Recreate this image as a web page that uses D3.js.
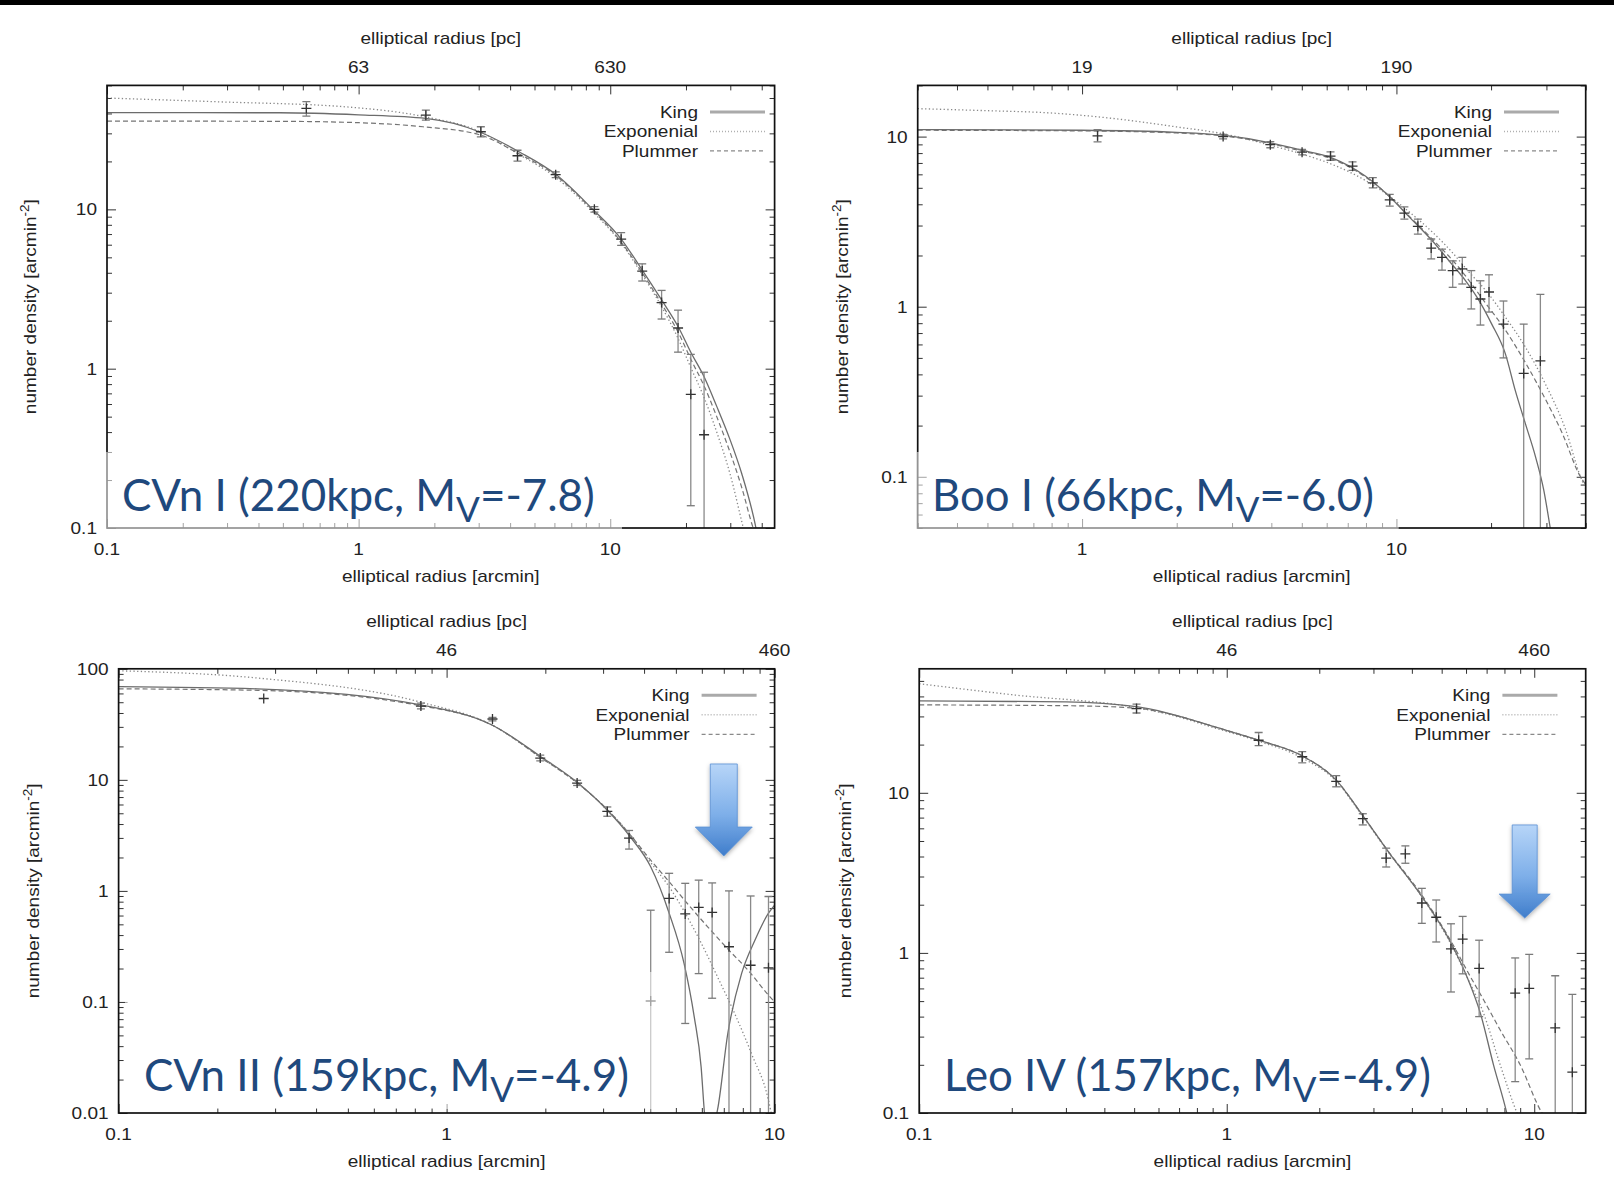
<!DOCTYPE html>
<html>
<head>
<meta charset="utf-8">
<script src="https://cdn.jsdelivr.net/npm/d3@7"></script>
<style>
  body { margin: 0; background: #fff; }
  text { font-family: "Liberation Sans", Arial, sans-serif; }
</style>
</head>
<body>
<script>
// ---------- shared labels ----------
const legendNames = ["King", "Exponenial", "Plummer"];
const xTitle = "elliptical radius [arcmin]";
const pcTitle = "elliptical radius [pc]";
const yTitle = ["number density [arcmin", "-2", "]"];

// ---------- CVn I ----------
const cvn1Title = ["CVn I (220kpc, M", "V", "=-7.8)"];
const cvn1XTicks = [0.1, 1, 10];
const cvn1XLabels = ["0.1", "1", "10"];
const cvn1PcTicks = [63, 630];
const cvn1PcLabels = ["63", "630"];
const cvn1YTicks = [0.1, 1, 10];
const cvn1YLabels = ["0.1", "1", "10"];
// [radius, density, err low, err high]  (low 0 = below the axis)
const cvn1Data = [
  [0.62, 43, 38.5, 47.5], [1.85, 39, 36.3, 42], [3.06, 30.7, 28.5, 33],
  [4.28, 21.7, 20.1, 23.5], [6.07, 16.5, 15.8, 17.2], [8.65, 10, 9.6, 10.4],
  [11.05, 6.5, 5.95, 7.15], [13.4, 4.1, 3.55, 4.55], [16.0, 2.6, 2.05, 3.1],
  [18.6, 1.8, 1.27, 2.33], [20.9, 0.69, 0.138, 1.23], [23.6, 0.385, 0, 0.95]
];
const cvn1King = [[0.1, 40.5], [0.485, 40.4], [1.0, 39.2], [1.85, 37.2], [3.01, 30.7], [4.34, 23],
  [6.07, 16.6], [8.47, 10.1], [11.07, 6.49], [13.4, 4.16], [16, 2.7], [18.6, 1.84], [21, 1.25],
  [23.6, 0.89], [26.5, 0.58], [29.9, 0.36], [33.3, 0.22], [37.7, 0.105], [39, 0.08]];
const cvn1Expo = [[0.1, 50], [0.28, 47.3], [0.89, 44], [1.85, 38], [3.0, 31], [4.3, 22.3], [6.1, 15.8],
  [8.5, 9.7], [11, 6.2], [13.4, 3.9], [16, 2.45], [18.6, 1.55], [21, 1.0], [23.6, 0.66], [26.5, 0.4],
  [29.9, 0.22], [33.8, 0.1], [35, 0.08]];
const cvn1Plum = [[0.1, 35.8], [0.485, 35.7], [1.0, 35], [1.8, 33], [3.0, 29.5], [4.3, 22.5], [6.1, 16.2],
  [8.5, 9.9], [11, 6.3], [13.4, 4.0], [16, 2.55], [18.6, 1.7], [21, 1.13], [23.6, 0.78], [26.5, 0.5],
  [29.9, 0.3], [33.3, 0.18], [37, 0.1], [38.5, 0.085]];

// ---------- Boo I ----------
const boo1Title = ["Boo I (66kpc, M", "V", "=-6.0)"];
const boo1XTicks = [1, 10];
const boo1XLabels = ["1", "10"];
const boo1PcTicks = [19, 190];
const boo1PcLabels = ["19", "190"];
const boo1YTicks = [0.1, 1, 10];
const boo1YLabels = ["0.1", "1", "10"];
const boo1Data = [
  [1.12, 10.1, 9.3, 11.0], [2.81, 10.0, 9.7, 10.3], [3.97, 8.97, 8.6, 9.35], [5.01, 8.1, 7.8, 8.4],
  [6.17, 7.68, 7.26, 8.14], [7.25, 6.7, 6.33, 7.1], [8.41, 5.35, 5.0, 5.74], [9.52, 4.25, 3.9, 4.58],
  [10.6, 3.55, 3.27, 3.86], [11.7, 2.97, 2.67, 3.27], [12.9, 2.21, 1.91, 2.5], [13.96, 1.95, 1.64, 2.18],
  [15.1, 1.63, 1.30, 1.86], [16.2, 1.67, 1.36, 1.95], [17.3, 1.30, 0.97, 1.63], [18.5, 1.11, 0.78, 1.42],
  [19.7, 1.22, 0.93, 1.54], [21.9, 0.79, 0.50, 1.08], [25.4, 0.405, 0, 0.79], [28.7, 0.48, 0, 1.18]
];
const boo1King = [[0.3, 11.0], [1, 10.9], [2, 10.6], [2.8, 10.2], [3.97, 9.2], [4.88, 8.4], [6.23, 7.5],
  [7.96, 5.86], [9.57, 4.38], [10.9, 3.42], [13.0, 2.44], [15.0, 1.78], [16.6, 1.42], [18.3, 1.09],
  [20.1, 0.79], [22.2, 0.53], [23.9, 0.32], [25.7, 0.206], [27.7, 0.131], [29.4, 0.084], [30.9, 0.049]];
const boo1Expo = [[0.3, 14.6], [0.5, 14.2], [0.78, 13.8], [1.2, 12.9], [2, 11.4], [2.8, 10.4], [3.97, 8.9],
  [5, 7.9], [6.2, 6.9], [8, 5.5], [9.6, 4.4], [11, 3.6], [13, 2.75], [15, 2.1], [17, 1.6], [19.2, 1.25],
  [22.2, 0.87], [25.7, 0.58], [29.8, 0.35], [34.5, 0.19], [38.5, 0.1], [40, 0.085]];
const boo1Plum = [[0.3, 10.9], [1, 10.8], [2, 10.5], [2.8, 10.1], [3.97, 9.1], [4.88, 8.3], [6.23, 7.4],
  [7.96, 5.8], [9.57, 4.4], [10.9, 3.45], [13.0, 2.5], [15.8, 1.7], [19.2, 1.05], [22.2, 0.73],
  [25.7, 0.47], [29.1, 0.31], [33.7, 0.18], [38.5, 0.1], [40, 0.09]];

// ---------- CVn II ----------
const cvn2Title = ["CVn II (159kpc, M", "V", "=-4.9)"];
const cvn2XTicks = [0.1, 1, 10];
const cvn2XLabels = ["0.1", "1", "10"];
const cvn2PcTicks = [46, 460];
const cvn2PcLabels = ["46", "460"];
const cvn2YTicks = [0.01, 0.1, 1, 10, 100];
const cvn2YLabels = ["0.01", "0.1", "1", "10", "100"];
const cvn2Data = [
  [0.277, 54, 54, 54], [0.835, 46.2, 43.5, 49], [1.38, 35.3, 34, 36.5], [1.93, 15.7, 14.8, 16.7],
  [2.50, 9.36, 8.9, 9.9], [3.09, 5.2, 4.7, 5.7], [3.6, 2.99, 2.38, 3.5], [4.19, 0.102, 0, 0.67],
  [4.77, 0.855, 0.28, 1.44], [5.34, 0.62, 0.064, 1.17], [5.87, 0.71, 0.18, 1.25], [6.45, 0.64, 0.108, 1.18],
  [7.26, 0.314, 0, 1.0], [8.45, 0.214, 0, 0.9], [9.58, 0.203, 0, 0.89]
];
const cvn2King = [[0.1, 69], [0.265, 66], [0.835, 47.3], [1.38, 31], [1.93, 16.3], [2.5, 9.5], [3.04, 5.6],
  [3.63, 3.07], [4.19, 1.65], [4.77, 0.63], [5.30, 0.22], [5.69, 0.073], [5.97, 0.026], [6.1, 0.0107],
  [6.15, 0.008]];
const cvn2King2 = [[6.55, 0.008], [6.7, 0.0107], [7.2, 0.052], [7.93, 0.18], [8.71, 0.36], [9.58, 0.63],
  [10, 0.745]];
const cvn2Expo = [[0.1, 96], [0.265, 82.6], [0.835, 50], [1.38, 31], [1.93, 16], [2.5, 9.4], [3.09, 5.4],
  [3.63, 3.2], [4.19, 1.8], [4.77, 1.09], [5.34, 0.63], [5.97, 0.34], [6.7, 0.168], [7.55, 0.079],
  [8.51, 0.034], [9.58, 0.013], [9.8, 0.0095]];
const cvn2Plum = [[0.1, 66], [0.265, 64], [0.835, 46.5], [1.38, 31], [1.93, 16], [2.5, 9.4], [3.09, 5.4],
  [3.63, 3.2], [4.19, 1.89], [4.77, 1.21], [5.42, 0.77], [6.25, 0.475], [7.2, 0.30], [8.3, 0.193],
  [9.58, 0.115], [10, 0.1]];

// ---------- Leo IV ----------
const leo4Title = ["Leo IV (157kpc, M", "V", "=-4.9)"];
const leo4XTicks = [0.1, 1, 10];
const leo4XLabels = ["0.1", "1", "10"];
const leo4PcTicks = [46, 460];
const leo4PcLabels = ["46", "460"];
const leo4YTicks = [0.1, 1, 10];
const leo4YLabels = ["0.1", "1", "10"];
const leo4Data = [
  [0.509, 33.6, 31.5, 35.8], [1.27, 21.3, 19.7, 23.8], [1.76, 16.8, 15.4, 18.1], [2.27, 11.8, 10.9, 12.8],
  [2.77, 6.9, 6.3, 7.4], [3.30, 3.91, 3.44, 4.51], [3.81, 4.16, 3.63, 4.66], [4.31, 2.05, 1.53, 2.53],
  [4.80, 1.67, 1.17, 2.14], [5.36, 1.06, 0.57, 1.52], [5.85, 1.22, 0.74, 1.69], [6.62, 0.80, 0.40, 1.20],
  [8.67, 0.56, 0.157, 0.93], [9.63, 0.60, 0.218, 0.98], [11.7, 0.34, 0, 0.72], [13.3, 0.18, 0, 0.55]
];
const leo4King = [[0.1, 37.5], [0.3, 37], [0.509, 34.5], [0.642, 31.5], [0.94, 25.4], [1.27, 21.3],
  [1.76, 17], [2.27, 12], [2.77, 7.2], [3.37, 4.23], [4.24, 2.35], [5.34, 1.17], [6.04, 0.71],
  [6.68, 0.42], [7.37, 0.2], [8.14, 0.1], [8.3, 0.085]];
const leo4Expo = [[0.1, 48], [0.2, 41], [0.509, 34], [0.642, 31], [0.94, 25], [1.27, 21], [1.76, 16.5],
  [2.27, 11.8], [2.77, 7.1], [3.37, 4.2], [4.24, 2.35], [5.34, 1.15], [6.04, 0.71], [6.84, 0.42],
  [7.75, 0.2], [8.79, 0.1], [9, 0.09]];
const leo4Plum = [[0.1, 35.4], [0.3, 35], [0.509, 33.8], [0.642, 31.3], [0.94, 25.4], [1.27, 21.3],
  [1.76, 17], [2.27, 12], [2.77, 7.2], [3.37, 4.25], [4.24, 2.4], [5.34, 1.2], [6.2, 0.71], [6.84, 0.51],
  [7.75, 0.33], [9.0, 0.2], [10.6, 0.1], [11, 0.09]];

// ---------- layout ----------
const W = 1614, H = 1183;
const SX = 1.12;          // gnuplot text looks a bit wide
const FS = 17;

const panels = [
  { id: "cvn1", left: 107, right: 774.6, top: 85.4, bottom: 528, xDomain: [0.1, 45], yDomain: [0.1, 60],
    pcf: 63, xT: cvn1XTicks, xL: cvn1XLabels, pcT: cvn1PcTicks, pcL: cvn1PcLabels, yT: cvn1YTicks, yL: cvn1YLabels,
    data: cvn1Data, king: [cvn1King], expo: cvn1Expo, plum: cvn1Plum, title: cvn1Title,
    titleX: 122, titleW: 473, titleY: 511, legRight: 765, yLabX: 36,
    fade: [106, 452, 516, 80] },
  { id: "boo1", left: 917.7, right: 1585.7, top: 85.4, bottom: 528, xDomain: [0.3, 40], yDomain: [0.05, 20],
    pcf: 19, xT: boo1XTicks, xL: boo1XLabels, pcT: boo1PcTicks, pcL: boo1PcLabels, yT: boo1YTicks, yL: boo1YLabels,
    data: boo1Data, king: [boo1King], expo: boo1Expo, plum: boo1Plum, title: boo1Title,
    titleX: 932, titleW: 442, titleY: 511, legRight: 1559, yLabX: 848,
    fade: [916.7, 452, 482, 80] },
  { id: "cvn2", left: 118.6, right: 774.6, top: 668.8, bottom: 1113, xDomain: [0.1, 10], yDomain: [0.01, 100],
    pcf: 46, xT: cvn2XTicks, xL: cvn2XLabels, pcT: cvn2PcTicks, pcL: cvn2PcLabels, yT: cvn2YTicks, yL: cvn2YLabels,
    data: cvn2Data, king: [cvn2King, cvn2King2], expo: cvn2Expo, plum: cvn2Plum, title: cvn2Title,
    titleX: 144, titleW: 485, titleY: 1091, legRight: 756.6, yLabX: 39,
    fade: [125, 972, 535, 137],
    arrow: { r: 7, top: 13.9, tip: 2.06, sw: 13.5, hw: 28.5, hl: 29 } },
  { id: "leo4", left: 919.2, right: 1585.7, top: 668.8, bottom: 1113, xDomain: [0.1, 14.7], yDomain: [0.1, 59.5],
    pcf: 46, xT: leo4XTicks, xL: leo4XLabels, pcT: leo4PcTicks, pcL: leo4PcLabels, yT: leo4YTicks, yL: leo4YLabels,
    data: leo4Data, king: [leo4King], expo: leo4Expo, plum: leo4Plum, title: leo4Title,
    titleX: 944, titleW: 487, titleY: 1091, legRight: 1557.4, yLabX: 850.5,
    arrow: { r: 9.31, top: 6.3, tip: 1.65, sw: 12.5, hw: 25.5, hl: 24 } }
];

const svg = d3.select("body").append("svg").attr("width", W).attr("height", H);
svg.append("rect").attr("width", W).attr("height", H).attr("fill", "#fff");
svg.append("rect").attr("width", W).attr("height", 5).attr("fill", "#000");

const defs = svg.append("defs");
const grad = defs.append("linearGradient").attr("id", "arrowGrad")
  .attr("x1", 0).attr("y1", 0).attr("x2", 0).attr("y2", 1);
grad.append("stop").attr("offset", "0%").attr("stop-color", "#b7d5f8");
grad.append("stop").attr("offset", "55%").attr("stop-color", "#7eafe9");
grad.append("stop").attr("offset", "100%").attr("stop-color", "#3f7dcb");
const shadow = defs.append("filter").attr("id", "arrowShadow").attr("x", "-30%").attr("y", "-30%")
  .attr("width", "160%").attr("height", "160%");
shadow.append("feDropShadow").attr("dx", 0).attr("dy", 2).attr("stdDeviation", 2)
  .attr("flood-color", "#000").attr("flood-opacity", 0.3);

const isMajor = v => Math.abs(Math.log10(v) - Math.round(Math.log10(v))) < 1e-6;

// widen text a little around its own anchor point
function stretch(sel) {
  sel.each(function () {
    const t = d3.select(this);
    const x = +t.attr("x") || 0, y = +t.attr("y") || 0;
    t.attr("transform", `translate(${x},${y}) scale(${SX},1) translate(${-x},${-y})`);
  });
}

function tickAxis(g, axis, pos, values, size) {
  g.append("g")
    .attr("transform", pos)
    .attr("color", "#333")
    .call(axis.tickValues(values).tickSizeInner(-size).tickSizeOuter(0).tickFormat(""))
    .call(a => a.select(".domain").remove());
}

function drawPanel(p) {
  const g = svg.append("g").attr("class", "panel-" + p.id);
  const x = d3.scaleLog().domain(p.xDomain).range([p.left, p.right]);
  const y = d3.scaleLog().domain(p.yDomain).range([p.bottom, p.top]);
  const xPc = d3.scaleLog().domain(p.xDomain.map(d => d * p.pcf)).range([p.left, p.right]);

  const clipId = "clip-" + p.id;
  defs.append("clipPath").attr("id", clipId).append("rect")
    .attr("x", p.left).attr("y", p.top).attr("width", p.right - p.left).attr("height", p.bottom - p.top);

  // ticks (gnuplot style, inward on all four sides)
  const xMinor = x.ticks().filter(v => !isMajor(v));
  const xMajor = x.ticks().filter(isMajor);
  const yMinor = y.ticks().filter(v => !isMajor(v));
  const yMajor = y.ticks().filter(isMajor);
  tickAxis(g, d3.axisBottom(x), `translate(0,${p.bottom})`, xMinor, 5);
  tickAxis(g, d3.axisBottom(x), `translate(0,${p.bottom})`, xMajor, 9);
  tickAxis(g, d3.axisTop(xPc), `translate(0,${p.top})`, xMinor.map(v => v * p.pcf), 5);
  tickAxis(g, d3.axisTop(xPc), `translate(0,${p.top})`, xMajor.map(v => v * p.pcf), 9);
  tickAxis(g, d3.axisLeft(y), `translate(${p.left},0)`, yMinor, 5);
  tickAxis(g, d3.axisLeft(y), `translate(${p.left},0)`, yMajor, 9);
  tickAxis(g, d3.axisRight(y), `translate(${p.right},0)`, yMinor, 5);
  tickAxis(g, d3.axisRight(y), `translate(${p.right},0)`, yMajor, 9);

  // tick labels
  const lab = g.append("g").attr("fill", "#222").style("font-size", FS + "px");
  lab.selectAll("text.xl").data(p.xT).join("text").attr("class", "xl")
    .attr("x", d => x(d)).attr("y", p.bottom + 27).attr("text-anchor", "middle")
    .text((d, i) => p.xL[i]).call(stretch);
  lab.selectAll("text.pl").data(p.pcT).join("text").attr("class", "pl")
    .attr("x", d => xPc(d)).attr("y", p.top - 12.5).attr("text-anchor", "middle")
    .text((d, i) => p.pcL[i]).call(stretch);
  lab.selectAll("text.yl").data(p.yT).join("text").attr("class", "yl")
    .attr("x", p.left - 10).attr("y", d => y(d) + 6).attr("text-anchor", "end")
    .text((d, i) => p.yL[i]).call(stretch);

  // axis titles
  const cx = (p.left + p.right) / 2;
  lab.append("text").attr("x", cx).attr("y", p.bottom + 54).attr("text-anchor", "middle")
    .text(xTitle).call(stretch);
  lab.append("text").attr("x", cx).attr("y", p.top - 41.5).attr("text-anchor", "middle")
    .text(pcTitle).call(stretch);
  const yl = lab.append("text").attr("text-anchor", "middle")
    .attr("transform", `translate(${p.yLabX},${(p.top + p.bottom) / 2}) rotate(-90) scale(${SX},1)`);
  yl.append("tspan").text(yTitle[0]);
  yl.append("tspan").attr("dy", -7).style("font-size", "12px").text(yTitle[1]);
  yl.append("tspan").attr("dy", 7).text(yTitle[2]);

  // model curves
  const line = d3.line().x(d => x(d[0])).y(d => y(d[1])).curve(d3.curveMonotoneX);
  const cg = g.append("g").attr("clip-path", `url(#${clipId})`).attr("fill", "none");
  cg.append("path").datum(p.expo).attr("d", line)
    .attr("stroke", "#888").attr("stroke-width", 1.3).attr("stroke-dasharray", "1.3,2.4");
  cg.append("path").datum(p.plum).attr("d", line)
    .attr("stroke", "#747474").attr("stroke-width", 1.2).attr("stroke-dasharray", "5,3");
  cg.selectAll("path.king").data(p.king).join("path").attr("class", "king").attr("d", line)
    .attr("stroke", "#6c6c6c").attr("stroke-width", 1.3);

  // data with error bars
  const dg = g.append("g").attr("clip-path", `url(#${clipId})`);
  const yLo = d => d[2] > 0 ? y(d[2]) : p.bottom + 3;
  const withBar = p.data.filter(d => d[3] > d[2]);
  dg.selectAll("line.bar").data(withBar).join("line").attr("class", "bar")
    .attr("x1", d => x(d[0])).attr("x2", d => x(d[0]))
    .attr("y1", d => y(d[3])).attr("y2", yLo)
    .attr("stroke", "#8a8a8a").attr("stroke-width", 1.3);
  dg.selectAll("line.capHi").data(withBar).join("line").attr("class", "capHi")
    .attr("x1", d => x(d[0]) - 4).attr("x2", d => x(d[0]) + 4)
    .attr("y1", d => y(d[3])).attr("y2", d => y(d[3]))
    .attr("stroke", "#7a7a7a").attr("stroke-width", 1.3);
  dg.selectAll("line.capLo").data(withBar.filter(d => d[2] > 0)).join("line").attr("class", "capLo")
    .attr("x1", d => x(d[0]) - 4).attr("x2", d => x(d[0]) + 4)
    .attr("y1", d => y(d[2])).attr("y2", d => y(d[2]))
    .attr("stroke", "#7a7a7a").attr("stroke-width", 1.3);
  dg.selectAll("path.pt").data(p.data).join("path").attr("class", "pt")
    .attr("d", d => {
      const px = x(d[0]), py = y(d[1]);
      return `M${px - 5},${py}H${px + 5}M${px},${py - 5}V${py + 5}`;
    })
    .attr("stroke", "#333").attr("stroke-width", 1.3).attr("fill", "none");

  // frame
  g.append("rect").attr("x", p.left).attr("y", p.top)
    .attr("width", p.right - p.left).attr("height", p.bottom - p.top)
    .attr("fill", "none").attr("stroke", "#111").attr("stroke-width", 1.7);

  // legend
  const lg = g.append("g").style("font-size", FS + "px").attr("fill", "#222");
  const styles = [
    { stroke: "#aaa", width: 3, dash: null },
    { stroke: "#b0b0b0", width: 1.5, dash: "1,2" },
    { stroke: "#8a8a8a", width: 1.3, dash: "4,3" }
  ];
  legendNames.forEach((name, i) => {
    const ly = p.top + 26.5 + i * 19.5;
    const st = styles[i];
    lg.append("line").attr("x1", p.legRight - 55).attr("x2", p.legRight)
      .attr("y1", ly).attr("y2", ly).attr("stroke", st.stroke).attr("stroke-width", st.width)
      .attr("stroke-dasharray", st.dash);
    lg.append("text").attr("x", p.legRight - 67).attr("y", ly + 6).attr("text-anchor", "end")
      .text(name).call(stretch);
  });

  // translucent title box that pales the axes beneath it
  if (p.fade) {
    g.append("rect").attr("x", p.fade[0]).attr("y", p.fade[1])
      .attr("width", p.fade[2]).attr("height", p.fade[3])
      .attr("fill", "#fff").attr("opacity", 0.55);
  }

  // big title
  const t = g.append("text").attr("x", p.titleX).attr("y", p.titleY).attr("fill", "#1F497D")
    .style("font-family", "Lato, 'Open Sans', sans-serif").style("font-size", "44px");
  t.append("tspan").text(p.title[0]);
  t.append("tspan").attr("dy", "0.31em").style("font-size", "0.8em").text(p.title[1]);
  t.append("tspan").attr("dy", "-0.248em").text(p.title[2]);
  const w = t.node().getComputedTextLength();
  const fs = Math.max(38, Math.min(50, 44 * p.titleW / w));
  t.style("font-size", fs + "px");

  // arrow
  if (p.arrow) {
    const a = p.arrow;
    const ax = x(a.r), top = y(a.top), tip = y(a.tip), hy = tip - a.hl;
    const pts = [[ax - a.sw, top], [ax + a.sw, top], [ax + a.sw, hy], [ax + a.hw, hy], [ax, tip],
                 [ax - a.hw, hy], [ax - a.sw, hy]];
    g.append("path").attr("d", "M" + pts.map(q => q.join(",")).join("L") + "Z")
      .attr("fill", "url(#arrowGrad)").attr("stroke", "#5a8fd2").attr("stroke-width", 0.8)
      .attr("filter", "url(#arrowShadow)");
  }
}

panels.forEach(drawPanel);
</script>
</body>
</html>
